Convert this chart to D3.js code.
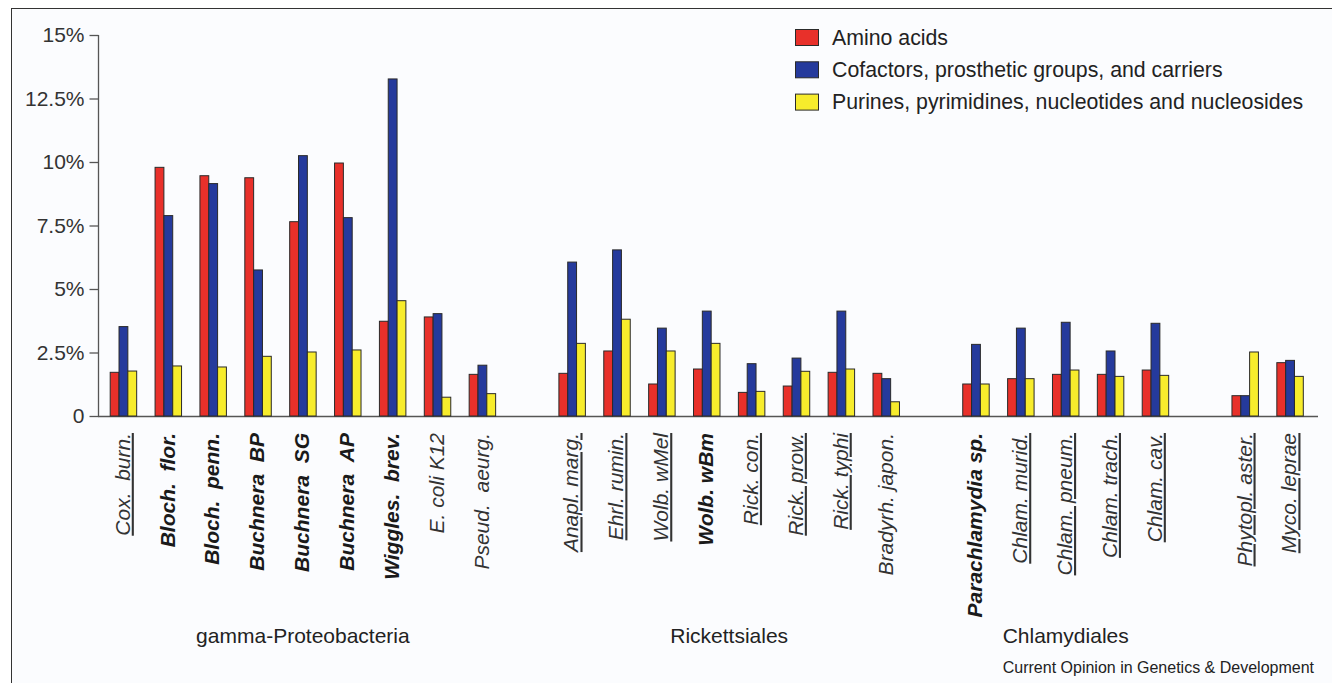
<!DOCTYPE html>
<html>
<head>
<meta charset="utf-8">
<script src="https://cdn.jsdelivr.net/npm/d3@7"></script>
<style>
  html, body { margin: 0; padding: 0; background: #ffffff; }
  svg { display: block; }
  text { font-family: "Liberation Sans", Arial, Helvetica, sans-serif; }
</style>
</head>
<body>
<svg id="chart" width="1332" height="683"></svg>
<script>
// Organisms, in plotting order, per taxonomic group
const gammaProteobacteria = ["Cox.\u00a0\u00a0burn.", "Bloch.\u00a0\u00a0flor.", "Bloch.\u00a0\u00a0penn.", "Buchnera\u00a0\u00a0BP", "Buchnera\u00a0\u00a0SG", "Buchnera\u00a0\u00a0AP", "Wiggles.\u00a0\u00a0brev.", "E.\u00a0coli\u00a0K12", "Pseud.\u00a0\u00a0aeurg."];
const rickettsiales = ["Anapl.\u00a0marg.", "Ehrl.\u00a0rumin.", "Wolb.\u00a0wMel", "Wolb.\u00a0wBm", "Rick.\u00a0con.", "Rick.\u00a0prow.", "Rick.\u00a0typhi", "Bradyrh.\u00a0japon."];
const chlamydiales = ["Parachlamydia\u00a0sp.", "Chlam.\u00a0murid.", "Chlam.\u00a0pneum.", "Chlam.\u00a0trach.", "Chlam.\u00a0cav."];
const others = ["Phytopl.\u00a0aster.", "Myco.\u00a0leprae"];

const groupNames = ["gamma-Proteobacteria", "Rickettsiales", "Chlamydiales", ""];

// Names set in bold and names underlined
const boldNames = ["Bloch.\u00a0\u00a0flor.", "Bloch.\u00a0\u00a0penn.", "Buchnera\u00a0\u00a0BP", "Buchnera\u00a0\u00a0SG", "Buchnera\u00a0\u00a0AP", "Wiggles.\u00a0\u00a0brev.", "Wolb.\u00a0wBm", "Parachlamydia\u00a0sp."];
const underlinedNames = ["Cox.\u00a0\u00a0burn.", "Anapl.\u00a0marg.", "Ehrl.\u00a0rumin.", "Wolb.\u00a0wMel", "Rick.\u00a0con.", "Rick.\u00a0prow.", "Rick.\u00a0typhi", "Chlam.\u00a0murid.", "Chlam.\u00a0pneum.", "Chlam.\u00a0trach.", "Chlam.\u00a0cav.", "Phytopl.\u00a0aster.", "Myco.\u00a0leprae"];

// Share of genes (%) in each functional category, same order as the organisms above
const aminoAcids  = [1.72, 9.79, 9.46, 9.38, 7.65, 9.96, 3.73, 3.90, 1.64,
                     1.68, 2.56, 1.26, 1.85, 0.93, 1.18, 1.72, 1.68,
                     1.26, 1.47, 1.64, 1.64, 1.81,
                     0.80, 2.10];
const cofactors   = [3.52, 7.89, 9.15, 5.75, 10.25, 7.81, 13.27, 4.03, 2.00,
                     6.06, 6.54, 3.46, 4.13, 2.06, 2.28, 4.13, 1.47,
                     2.82, 3.46, 3.69, 2.56, 3.65,
                     0.80, 2.19];
const nucleotides = [1.77, 1.97, 1.93, 2.35, 2.52, 2.60, 4.54, 0.74, 0.88,
                     2.86, 3.81, 2.56, 2.86, 0.97, 1.76, 1.85, 0.56,
                     1.26, 1.47, 1.81, 1.56, 1.60,
                     2.52, 1.56];

const seriesNames = ["Amino acids", "Cofactors, prosthetic groups, and carriers", "Purines, pyrimidines, nucleotides and nucleosides"];
const seriesColors = ["#e8302a", "#253a9c", "#f7ec2c"];

const yTicks = [0, 2.5, 5, 7.5, 10, 12.5, 15];
const yTickLabels = ["0", "2.5%", "5%", "7.5%", "10%", "12.5%", "15%"];

const creditLine = "Current Opinion in Genetics & Development";

// ---------------------------------------------------------------------------
const groups = [gammaProteobacteria, rickettsiales, chlamydiales, others];
const organisms = groups.flat();
const seriesValues = [aminoAcids, cofactors, nucleotides];

// x slots: organisms with one empty slot between groups
const slots = [];
groups.forEach((g, i) => {
  if (i > 0) slots.push("__gap" + i);
  g.forEach(n => slots.push(n));
});

const svg = d3.select("#chart");

// frame and panel background
svg.append("rect")
  .attr("x", 11.5).attr("y", 8.5).attr("width", 1330).attr("height", 700)
  .attr("fill", "#fbfcfe").attr("stroke", "#333").attr("stroke-width", 1);

const x = d3.scaleBand().domain(slots).range([101, 1312.5]).paddingInner(0.41).paddingOuter(0.205);
const xs = d3.scaleBand().domain(seriesNames).range([0, x.bandwidth()]);
const y = d3.scaleLinear().domain([0, 15]).range([416, 35]);

// y axis
const yAxis = svg.append("g")
  .attr("transform", "translate(98.5,0)")
  .call(d3.axisLeft(y).tickValues(yTicks).tickFormat((d, i) => yTickLabels[i]).tickSize(9).tickPadding(5));
yAxis.select(".domain").attr("stroke", "#555").attr("stroke-width", 1.3).attr("d", `M0,${y(15)}V${y(0)}`);
yAxis.selectAll(".tick line").attr("stroke", "#555").attr("stroke-width", 1.3);
yAxis.selectAll(".tick text")
  .attr("fill", "#333").style("font-size", "21px").style("font-family", "'Liberation Sans', Arial, sans-serif");

// baseline
svg.append("line")
  .attr("x1", 98).attr("x2", 1318).attr("y1", y(0) + 0.5).attr("y2", y(0) + 0.5)
  .attr("stroke", "#555").attr("stroke-width", 1.3);

// bars
const rows = organisms.map((name, i) => ({ name, values: seriesValues.map(s => s[i]) }));
const bars = svg.append("g");
rows.forEach(r => {
  r.values.forEach((v, k) => {
    bars.append("rect")
      .attr("x", x(r.name) + xs(seriesNames[k]))
      .attr("y", y(v))
      .attr("width", xs.bandwidth())
      .attr("height", y(0) - y(v))
      .attr("fill", seriesColors[k])
      .attr("stroke", "#2a2a2a")
      .attr("stroke-width", 1);
  });
});

// organism labels, rotated
svg.append("g").selectAll("text").data(organisms).join("text")
  .attr("transform", d => `translate(${x(d) + x.bandwidth() / 2},433) rotate(-90)`)
  .attr("dy", "0.3em")
  .attr("text-anchor", "end")
  .style("font-size", "21px")
  .style("font-style", "italic")
  .style("font-weight", d => boldNames.includes(d) ? "bold" : "normal")
  .style("text-decoration", d => underlinedNames.includes(d) ? "underline" : "none")
  .attr("fill", d => boldNames.includes(d) ? "#1a1a1a" : "#333")
  .text(d => d);

// group labels
groups.forEach((g, i) => {
  if (!groupNames[i]) return;
  const cx = (x(g[0]) + x(g[g.length - 1]) + x.bandwidth()) / 2;
  svg.append("text")
    .attr("x", cx).attr("y", 643)
    .attr("text-anchor", "middle")
    .style("font-size", "21px")
    .attr("fill", "#222")
    .text(groupNames[i]);
});

// legend
const legend = svg.append("g").attr("transform", "translate(795,29)");
seriesNames.forEach((s, k) => {
  const row = legend.append("g").attr("transform", `translate(0,${k * 32.3})`);
  row.append("rect").attr("x", 0.5).attr("y", 0.5).attr("width", 23).attr("height", 16)
    .attr("fill", seriesColors[k]).attr("stroke", "#2a2a2a").attr("stroke-width", 1);
  row.append("text").attr("x", 37).attr("y", 15.5)
    .style("font-size", "21.3px").attr("fill", "#222").text(s);
});

// credit line
svg.append("text")
  .attr("x", 1314).attr("y", 673)
  .attr("text-anchor", "end")
  .style("font-size", "16px")
  .attr("fill", "#222")
  .text(creditLine);
</script>
</body>
</html>
